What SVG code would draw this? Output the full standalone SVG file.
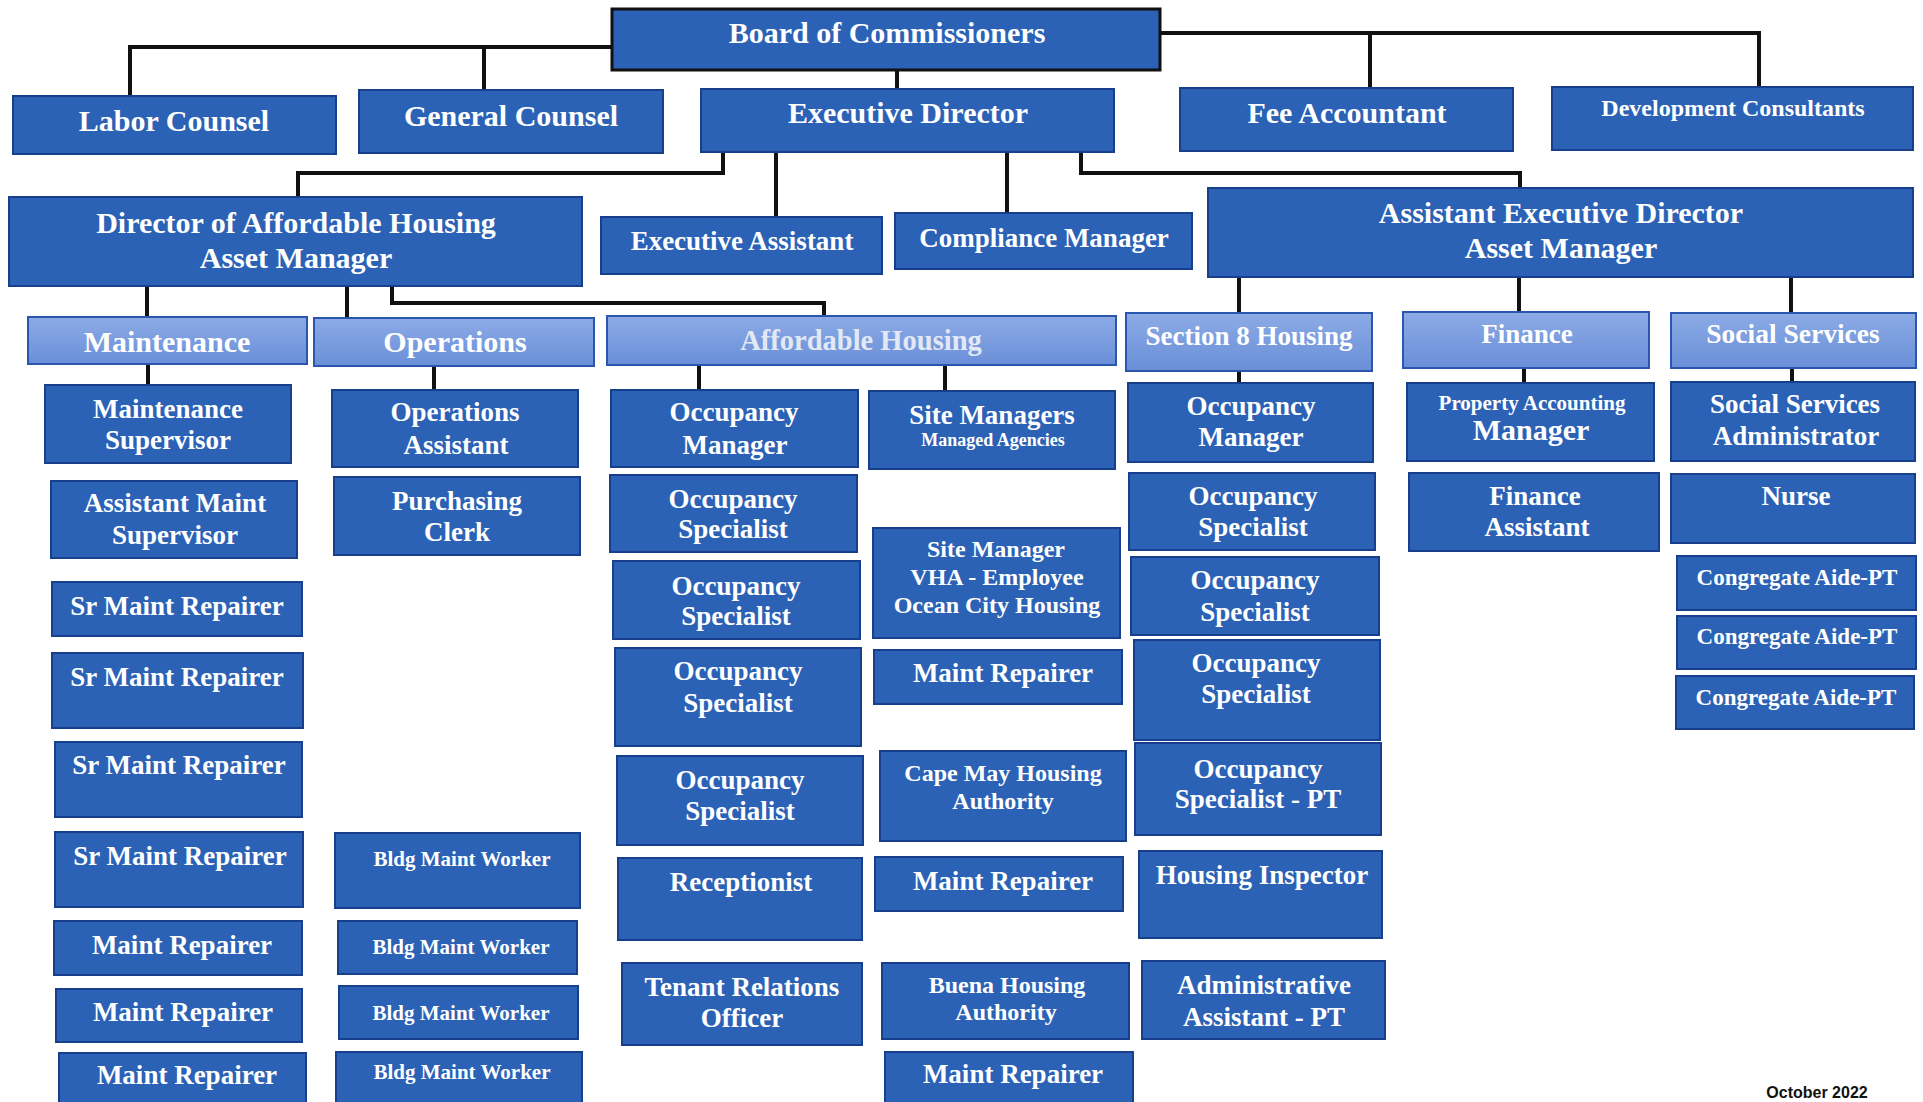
<svg xmlns="http://www.w3.org/2000/svg" width="1923" height="1102" viewBox="0 0 1923 1102">
<defs>
<linearGradient id="hg" x1="0" y1="0" x2="0" y2="1">
<stop offset="0" stop-color="#8cabe6"/>
<stop offset="1" stop-color="#6a8fd8"/>
</linearGradient>
<style>
.box{fill:#2b62b6;stroke:#173f8c;stroke-width:2}
.hdr{fill:url(#hg);stroke:#2a56ad;stroke-width:2}
.t{font-family:"Liberation Serif","Times New Roman",serif;font-weight:bold;fill:#ffffff;text-anchor:middle}
.s30{font-size:30px}.s27{font-size:27px}.s24{font-size:24px}.s21{font-size:21px}.s23{font-size:23px}.s18{font-size:18px}
.conn path{fill:none;stroke:#111111;stroke-width:4}
</style>
</defs>
<rect width="1923" height="1102" fill="#ffffff"/>
<g class="conn" id="connectors">
<path d="M130,97 V47 H612"/>
<path d="M484,47 V90"/>
<path d="M897,70 V89"/>
<path d="M1160,33 H1759 V87"/>
<path d="M1370,33 V88"/>
<path d="M723,152 V173 H298 V197"/>
<path d="M776,152 V217"/>
<path d="M1007,152 V213"/>
<path d="M1081,152 V173 H1520 V188"/>
<path d="M147,286 V317"/>
<path d="M347,286 V318"/>
<path d="M392,286 V303 H824 V316"/>
<path d="M1239,277 V313"/>
<path d="M1519,277 V312"/>
<path d="M1791,277 V313"/>
<path d="M148,364 V385"/>
<path d="M434,366 V390"/>
<path d="M699,365 V390"/>
<path d="M945,365 V391"/>
<path d="M1239,371 V383"/>
<path d="M1524,368 V383"/>
<path d="M1792,368 V382"/>
</g>
<g id="board"><rect x="612" y="9" width="548" height="61" class="box" style="stroke:#111;stroke-width:3"/><text class="t s30" x="887" y="43">Board of Commissioners</text></g>
<g id="labor"><rect x="13" y="96" width="323" height="58" class="box"/><text class="t s30" x="174" y="131">Labor Counsel</text></g>
<g id="general"><rect x="359" y="90" width="304" height="63" class="box"/><text class="t s30" x="511" y="126">General Counsel</text></g>
<g id="ed"><rect x="701" y="89" width="413" height="63" class="box"/><text class="t s30" x="908" y="123">Executive Director</text></g>
<g id="fee"><rect x="1180" y="88" width="333" height="63" class="box"/><text class="t s30" x="1347" y="123">Fee Accountant</text></g>
<g id="dev"><rect x="1552" y="87" width="361" height="63" class="box"/><text class="t s24" x="1733" y="116">Development Consultants</text></g>
<g id="dir"><rect x="9" y="197" width="573" height="89" class="box"/><text class="t s30" x="296" y="233">Director of Affordable Housing</text><text class="t s30" x="296" y="268">Asset Manager</text></g>
<g id="ea"><rect x="601" y="217" width="281" height="57" class="box"/><text class="t s27" x="742" y="250">Executive Assistant</text></g>
<g id="cm"><rect x="895" y="213" width="297" height="56" class="box"/><text class="t s27" x="1044" y="247">Compliance Manager</text></g>
<g id="aed"><rect x="1208" y="188" width="705" height="89" class="box"/><text class="t s30" x="1561" y="223">Assistant Executive Director</text><text class="t s30" x="1561" y="258">Asset Manager</text></g>

<g id="h-maint"><rect x="28" y="317" width="279" height="47" class="hdr"/><text class="t s30" x="167" y="352">Maintenance</text></g>
<g id="h-ops"><rect x="314" y="318" width="280" height="48" class="hdr"/><text class="t s30" x="455" y="352">Operations</text></g>
<g id="h-ah"><rect x="607" y="316" width="509" height="49" class="hdr"/><text class="t" x="861" y="350" style="font-size:28.5px;fill:#e3e9f4">Affordable Housing</text></g>
<g id="h-s8"><rect x="1126" y="313" width="246" height="58" class="hdr"/><text class="t s27" x="1249" y="345">Section 8 Housing</text></g>
<g id="h-fin"><rect x="1403" y="312" width="246" height="56" class="hdr"/><text class="t s27" x="1527" y="343">Finance</text></g>
<g id="h-soc"><rect x="1671" y="313" width="245" height="55" class="hdr"/><text class="t" x="1793" y="343" style="font-size:27.5px">Social Services</text></g>

<g id="ms"><rect x="45" y="385" width="246" height="78" class="box"/><text class="t s27" x="168" y="418">Maintenance</text><text class="t s27" x="168" y="449">Supervisor</text></g>
<g id="ams"><rect x="51" y="481" width="246" height="77" class="box"/><text class="t s27" x="175" y="512">Assistant Maint</text><text class="t s27" x="175" y="544">Supervisor</text></g>
<g id="sr1"><rect x="52" y="582" width="250" height="54" class="box"/><text class="t s27" x="177" y="615">Sr Maint Repairer</text></g>
<g id="sr2"><rect x="52" y="653" width="251" height="75" class="box"/><text class="t s27" x="177" y="686">Sr Maint Repairer</text></g>
<g id="sr3"><rect x="55" y="742" width="247" height="75" class="box"/><text class="t s27" x="179" y="774">Sr Maint Repairer</text></g>
<g id="sr4"><rect x="55" y="832" width="248" height="75" class="box"/><text class="t s27" x="180" y="865">Sr Maint Repairer</text></g>
<g id="mr1"><rect x="54" y="921" width="248" height="54" class="box"/><text class="t s27" x="182" y="954">Maint Repairer</text></g>
<g id="mr2"><rect x="56" y="989" width="246" height="53" class="box"/><text class="t s27" x="183" y="1021">Maint Repairer</text></g>
<g id="mr3"><rect x="59" y="1053" width="247" height="55" class="box"/><text class="t s27" x="187" y="1084">Maint Repairer</text></g>

<g id="oa"><rect x="332" y="390" width="246" height="77" class="box"/><text class="t s27" x="455" y="421">Operations</text><text class="t s27" x="456" y="454">Assistant</text></g>
<g id="pc"><rect x="334" y="477" width="246" height="78" class="box"/><text class="t s27" x="457" y="510">Purchasing</text><text class="t s27" x="457" y="541">Clerk</text></g>
<g id="bmw1"><rect x="335" y="833" width="245" height="75" class="box"/><text class="t s21" x="462" y="866">Bldg Maint Worker</text></g>
<g id="bmw2"><rect x="338" y="921" width="239" height="53" class="box"/><text class="t s21" x="461" y="954">Bldg Maint Worker</text></g>
<g id="bmw3"><rect x="339" y="986" width="239" height="53" class="box"/><text class="t s21" x="461" y="1020">Bldg Maint Worker</text></g>
<g id="bmw4"><rect x="336" y="1052" width="246" height="55" class="box"/><text class="t s21" x="462" y="1079">Bldg Maint Worker</text></g>

<g id="om"><rect x="611" y="390" width="247" height="77" class="box"/><text class="t s27" x="734" y="421">Occupancy</text><text class="t s27" x="735" y="454">Manager</text></g>
<g id="os1"><rect x="610" y="475" width="247" height="77" class="box"/><text class="t s27" x="733" y="508">Occupancy</text><text class="t s27" x="733" y="538">Specialist</text></g>
<g id="os2"><rect x="613" y="561" width="247" height="78" class="box"/><text class="t s27" x="736" y="595">Occupancy</text><text class="t s27" x="736" y="625">Specialist</text></g>
<g id="os3"><rect x="615" y="648" width="246" height="98" class="box"/><text class="t s27" x="738" y="680">Occupancy</text><text class="t s27" x="738" y="712">Specialist</text></g>
<g id="os4"><rect x="617" y="756" width="246" height="89" class="box"/><text class="t s27" x="740" y="789">Occupancy</text><text class="t s27" x="740" y="820">Specialist</text></g>
<g id="rec"><rect x="618" y="858" width="244" height="82" class="box"/><text class="t s27" x="741" y="891">Receptionist</text></g>
<g id="tro"><rect x="622" y="963" width="240" height="82" class="box"/><text class="t s27" x="742" y="996">Tenant Relations</text><text class="t s27" x="742" y="1027">Officer</text></g>

<g id="sm"><rect x="869" y="391" width="246" height="78" class="box"/><text class="t s27" x="992" y="424">Site Managers</text><text class="t s18" x="993" y="446">Managed Agencies</text></g>
<g id="vha"><rect x="873" y="528" width="247" height="110" class="box"/><text class="t s24" x="996" y="557">Site Manager</text><text class="t s24" x="997" y="585">VHA - Employee</text><text class="t s24" x="997" y="613">Ocean City Housing</text></g>
<g id="mra"><rect x="874" y="650" width="248" height="54" class="box"/><text class="t s27" x="1003" y="682">Maint Repairer</text></g>
<g id="cape"><rect x="880" y="751" width="246" height="90" class="box"/><text class="t s24" x="1003" y="781">Cape May Housing</text><text class="t s24" x="1003" y="809">Authority</text></g>
<g id="mrb"><rect x="875" y="857" width="248" height="54" class="box"/><text class="t s27" x="1003" y="890">Maint Repairer</text></g>
<g id="buena"><rect x="882" y="963" width="247" height="76" class="box"/><text class="t s24" x="1007" y="993">Buena Housing</text><text class="t s24" x="1006" y="1020">Authority</text></g>
<g id="mrc"><rect x="885" y="1052" width="248" height="55" class="box"/><text class="t s27" x="1013" y="1083">Maint Repairer</text></g>

<g id="som"><rect x="1128" y="383" width="245" height="79" class="box"/><text class="t s27" x="1251" y="415">Occupancy</text><text class="t s27" x="1251" y="446">Manager</text></g>
<g id="sos1"><rect x="1129" y="473" width="246" height="77" class="box"/><text class="t s27" x="1253" y="505">Occupancy</text><text class="t s27" x="1253" y="536">Specialist</text></g>
<g id="sos2"><rect x="1131" y="557" width="248" height="78" class="box"/><text class="t s27" x="1255" y="589">Occupancy</text><text class="t s27" x="1255" y="621">Specialist</text></g>
<g id="sos3"><rect x="1134" y="640" width="246" height="100" class="box"/><text class="t s27" x="1256" y="672">Occupancy</text><text class="t s27" x="1256" y="703">Specialist</text></g>
<g id="sospt"><rect x="1135" y="743" width="246" height="92" class="box"/><text class="t s27" x="1258" y="778">Occupancy</text><text class="t s27" x="1258" y="808">Specialist - PT</text></g>
<g id="hi"><rect x="1139" y="851" width="243" height="87" class="box"/><text class="t s27" x="1262" y="884">Housing Inspector</text></g>
<g id="aapt"><rect x="1142" y="961" width="243" height="78" class="box"/><text class="t s27" x="1264" y="994">Administrative</text><text class="t s27" x="1264" y="1026">Assistant - PT</text></g>

<g id="pam"><rect x="1407" y="383" width="247" height="78" class="box"/><text class="t s21" x="1532" y="410">Property Accounting</text><text class="t s30" x="1531" y="440">Manager</text></g>
<g id="fa"><rect x="1409" y="473" width="250" height="78" class="box"/><text class="t s27" x="1535" y="505">Finance</text><text class="t s27" x="1537" y="536">Assistant</text></g>

<g id="ssa"><rect x="1671" y="382" width="244" height="79" class="box"/><text class="t s27" x="1795" y="413">Social Services</text><text class="t s27" x="1796" y="445">Administrator</text></g>
<g id="nurse"><rect x="1671" y="474" width="244" height="69" class="box"/><text class="t s27" x="1796" y="505">Nurse</text></g>
<g id="ca1"><rect x="1677" y="556" width="239" height="54" class="box"/><text class="t s23" x="1797" y="585">Congregate Aide-PT</text></g>
<g id="ca2"><rect x="1677" y="616" width="239" height="53" class="box"/><text class="t s23" x="1797" y="644">Congregate Aide-PT</text></g>
<g id="ca3"><rect x="1676" y="676" width="238" height="53" class="box"/><text class="t s23" x="1796" y="705">Congregate Aide-PT</text></g>

<text x="1817" y="1098" style="font-family:'Liberation Sans',Arial,sans-serif;font-weight:bold;font-size:16px;fill:#111;text-anchor:middle">October 2022</text>
</svg>
